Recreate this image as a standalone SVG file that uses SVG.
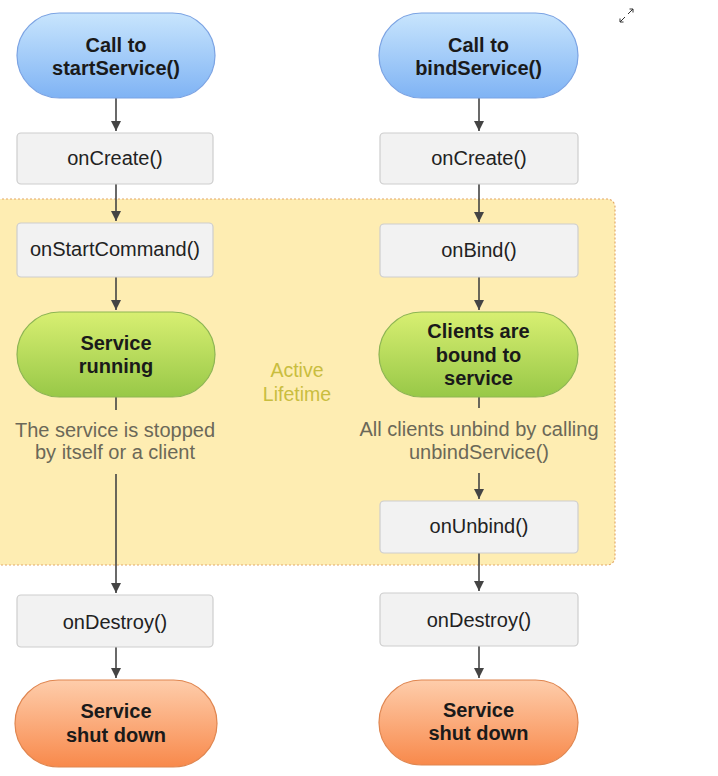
<svg xmlns="http://www.w3.org/2000/svg" width="718" height="776" viewBox="0 0 718 776">
<style>
.pill text, .box text { font-family: "Liberation Sans", Arial, sans-serif; text-anchor: middle; }
.pill text { font-size: 20px; font-weight: bold; fill: #1a1a1a; }
.box rect { fill: #f2f2f2; stroke: #cdcdcd; stroke-width: 1.2; }
.box text { font-size: 20px; fill: #222; }
.note { font-family: "Liberation Sans", Arial, sans-serif; font-size: 20px; fill: #6b6858; text-anchor: middle; }
.active { font-family: "Liberation Sans", Arial, sans-serif; font-size: 19.5px; fill: #c9bd3f; text-anchor: middle; }
.conn line { stroke: #444; stroke-width: 1.6; }
.blue { fill: url(#gBlue); stroke: #7ba3e3; stroke-width: 1.2; }
.green { fill: url(#gGreen); stroke: #8db553; stroke-width: 1.2; }
.orange { fill: url(#gOrange); stroke: #e08650; stroke-width: 1.2; }
</style>
<defs>
<linearGradient id="gBlue" x1="0" y1="0" x2="0" y2="1"><stop offset="0" stop-color="#c8e5fd"/><stop offset="1" stop-color="#7fb3f4"/></linearGradient>
<linearGradient id="gGreen" x1="0" y1="0" x2="0" y2="1"><stop offset="0" stop-color="#d8ef72"/><stop offset="1" stop-color="#98c847"/></linearGradient>
<linearGradient id="gOrange" x1="0" y1="0" x2="0" y2="1"><stop offset="0" stop-color="#fecdab"/><stop offset="1" stop-color="#f8894b"/></linearGradient>
<marker id="arr" viewBox="0 0 10 10" refX="10" refY="5" markerWidth="10" markerHeight="10" markerUnits="userSpaceOnUse" orient="auto"><path d="M0,0 L10,5 L0,10 z" fill="#444"/></marker>
</defs>
<rect width="718" height="776" fill="#ffffff"/>
<g id="active-lifetime">
<rect x="-10" y="199" width="625" height="366" rx="8" fill="#feedb2" stroke="#e3a868" stroke-width="1.2" stroke-dasharray="2,2"/>
<text class="active" x="297" y="377">Active</text>
<text class="active" x="297" y="401">Lifetime</text>
</g>
<g id="expand-icon" stroke="#333" stroke-width="1" fill="none">
<path d="M620,22 L625,17 M620,22 L620,18.5 M620,22 L623.5,22"/>
<path d="M633,9 L628,14 M633,9 L633,12.5 M633,9 L629.5,9"/>
</g>
<g id="connectors" class="conn">
<line x1="116" y1="98" x2="116" y2="131" marker-end="url(#arr)"/>
<line x1="116" y1="184" x2="116" y2="221" marker-end="url(#arr)"/>
<line x1="116" y1="277" x2="116" y2="310" marker-end="url(#arr)"/>
<line x1="116" y1="397" x2="116" y2="410"/>
<line x1="116" y1="474" x2="116" y2="593" marker-end="url(#arr)"/>
<line x1="116" y1="647" x2="116" y2="678" marker-end="url(#arr)"/>
<line x1="479" y1="98" x2="479" y2="131" marker-end="url(#arr)"/>
<line x1="479" y1="184" x2="479" y2="222" marker-end="url(#arr)"/>
<line x1="479" y1="277" x2="479" y2="310" marker-end="url(#arr)"/>
<line x1="479" y1="397" x2="479" y2="408"/>
<line x1="479" y1="473" x2="479" y2="499" marker-end="url(#arr)"/>
<line x1="479" y1="553" x2="479" y2="591" marker-end="url(#arr)"/>
<line x1="479" y1="646" x2="479" y2="678" marker-end="url(#arr)"/>
</g>
<g id="start-call" class="pill">
<rect class="blue" x="17" y="13" width="198" height="85" rx="42.5"/>
<text x="116" y="52">Call to</text>
<text x="116" y="75">startService()</text>
</g>
<g id="start-oncreate" class="box">
<rect x="17" y="133" width="196" height="51" rx="4"/>
<text x="115" y="165">onCreate()</text>
</g>
<g id="start-onstartcommand" class="box">
<rect x="17" y="223" width="196" height="54" rx="4"/>
<text x="115" y="256">onStartCommand()</text>
</g>
<g id="start-running" class="pill">
<rect class="green" x="17" y="312" width="198" height="85" rx="42.5"/>
<text x="116" y="350">Service</text>
<text x="116" y="373">running</text>
</g>
<g id="start-note">
<text class="note" x="115" y="437">The service is stopped</text>
<text class="note" x="115" y="459">by itself or a client</text>
</g>
<g id="start-ondestroy" class="box">
<rect x="17" y="595" width="196" height="52" rx="4"/>
<text x="115" y="629">onDestroy()</text>
</g>
<g id="start-shutdown" class="pill">
<rect class="orange" x="15" y="680" width="202" height="87" rx="43.5"/>
<text x="116" y="718">Service</text>
<text x="116" y="742">shut down</text>
</g>
<g id="bind-call" class="pill">
<rect class="blue" x="379" y="13" width="199" height="85" rx="42.5"/>
<text x="478.5" y="52">Call to</text>
<text x="478.5" y="75">bindService()</text>
</g>
<g id="bind-oncreate" class="box">
<rect x="380" y="133" width="198" height="51" rx="4"/>
<text x="479" y="165">onCreate()</text>
</g>
<g id="bind-onbind" class="box">
<rect x="380" y="224" width="198" height="53" rx="4"/>
<text x="479" y="257">onBind()</text>
</g>
<g id="bind-bound" class="pill">
<rect class="green" x="379" y="312" width="199" height="85" rx="42.5"/>
<text x="478.5" y="338">Clients are</text>
<text x="478.5" y="362">bound to</text>
<text x="478.5" y="385">service</text>
</g>
<g id="bind-note">
<text class="note" x="479" y="436">All clients unbind by calling</text>
<text class="note" x="479" y="459">unbindService()</text>
</g>
<g id="bind-onunbind" class="box">
<rect x="380" y="501" width="198" height="52" rx="4"/>
<text x="479" y="533">onUnbind()</text>
</g>
<g id="bind-ondestroy" class="box">
<rect x="380" y="593" width="198" height="53" rx="4"/>
<text x="479" y="627">onDestroy()</text>
</g>
<g id="bind-shutdown" class="pill">
<rect class="orange" x="379" y="680" width="199" height="85" rx="42.5"/>
<text x="478.5" y="717">Service</text>
<text x="478.5" y="740">shut down</text>
</g>
</svg>
